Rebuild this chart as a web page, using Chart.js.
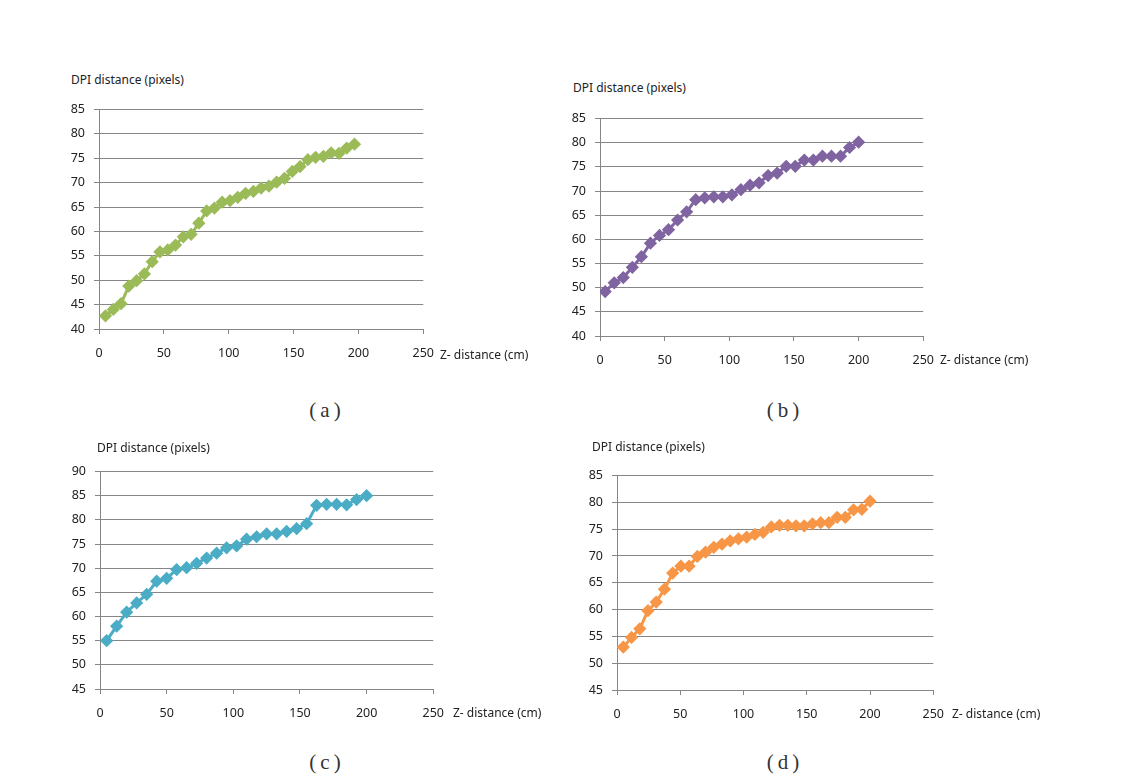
<!DOCTYPE html>
<html>
<head>
<meta charset="utf-8">
<script src="https://cdn.jsdelivr.net/npm/chart.js@4.4.1/dist/chart.umd.min.js"></script>
<style>
  body { margin: 0; background: #fff; width: 1140px; height: 783px; position: relative; overflow: hidden; }
  .box { position: absolute; }
  .lbl { position: absolute; font-family: "Noto Sans", sans-serif; font-size: 12px; color: #222; white-space: nowrap; line-height: 1; }
  .cap { position: absolute; font-family: "Liberation Serif", serif; font-size: 21px; color: #333; letter-spacing: 4px; white-space: nowrap; line-height: 1; transform: translateX(-50%); }
</style>
</head>
<body>
<script>
// measured points, Z- distance (cm) vs DPI distance (pixels)
const xA = [5, 11, 17, 23, 29, 35, 41, 47, 53, 59, 65, 71, 77, 83, 89, 95, 101, 107, 113, 119, 125, 131, 137, 143, 149, 155, 161, 167, 173, 179, 185, 191, 197];
const yA = [42.7, 44.0, 45.2, 48.8, 49.9, 51.3, 53.8, 55.8, 56.2, 57.2, 58.9, 59.4, 61.7, 64.2, 64.8, 66.0, 66.3, 67.0, 67.8, 68.2, 68.9, 69.3, 70.1, 70.9, 72.3, 73.3, 74.7, 75.2, 75.4, 76.1, 76.0, 77.1, 77.9];

const xB = [4, 11, 18, 25, 32, 39, 46, 53, 60, 67, 74, 81, 88, 95, 102, 109, 116, 123, 130, 137, 144, 151, 158, 165, 172, 179, 186, 193, 200];
const yB = [49.2, 51.0, 52.1, 54.2, 56.4, 59.2, 60.8, 62.0, 64.0, 65.7, 68.2, 68.6, 68.8, 68.8, 69.2, 70.3, 71.2, 71.7, 73.2, 73.7, 75.1, 75.1, 76.4, 76.4, 77.2, 77.2, 77.2, 79.0, 80.1];

const xC = [5, 12.5, 20, 27.5, 35, 42.5, 50, 57.5, 65, 72.5, 80, 87.5, 95, 102.5, 110, 117.5, 125, 132.5, 140, 147.5, 155, 162.5, 170, 177.5, 185, 192.5, 200];
const yC = [55.0, 58.0, 60.9, 62.8, 64.6, 67.3, 67.9, 69.7, 70.1, 71.0, 72.1, 73.1, 74.2, 74.6, 76.0, 76.5, 77.1, 77.1, 77.6, 78.2, 79.2, 83.0, 83.2, 83.2, 83.1, 84.2, 85.0];

const xD = [5, 11.5, 18, 24.5, 31, 37.5, 44, 50.5, 57, 63.5, 70, 76.5, 83, 89.5, 96, 102.5, 109, 115.5, 122, 128.5, 135, 141.5, 148, 154.5, 161, 167.5, 174, 180.5, 187, 193.5, 200];
const yD = [53.0, 54.8, 56.4, 59.8, 61.4, 63.8, 66.8, 68.1, 68.1, 69.9, 70.7, 71.6, 72.2, 72.8, 73.2, 73.5, 74.0, 74.4, 75.4, 75.7, 75.7, 75.6, 75.6, 76.0, 76.2, 76.2, 77.2, 77.2, 78.6, 78.7, 80.2];

const yTitle = 'DPI distance (pixels)';
const xTitle = 'Z- distance (cm)';
const captions = ['(a)', '(b)', '(c)', '(d)'];
const colors = ['#9bbb59', '#8064a2', '#4bacc6', '#f79646'];
const yRanges = [[40, 85], [40, 85], [45, 90], [45, 85]];

// plot area corners on the page
const panels = [
  { x: xA, y: yA, left: 99, right: 422, top: 108, bottom: 329, tx: 71, ty: 74, zx: 440, zy: 349, cx: 327, cy: 400 },
  { x: xB, y: yB, left: 600, right: 922, top: 117, bottom: 336, tx: 573, ty: 82, zx: 940, zy: 354, cx: 785, cy: 400 },
  { x: xC, y: yC, left: 100, right: 432, top: 470, bottom: 689, tx: 97, ty: 442, zx: 453, zy: 707, cx: 327, cy: 752 },
  { x: xD, y: yD, left: 617, right: 932, top: 474, bottom: 690, tx: 592, ty: 441, zx: 952, zy: 708, cx: 785, cy: 752 },
];

const YW = 60, PT = 15, PR = 24, XH = 40;
const gridCol = '#868686';
const tickFont = { family: 'Noto Sans', size: 12.5 };

panels.forEach((p, i) => {
  const div = document.createElement('div');
  div.className = 'box';
  div.style.left = (p.left - YW) + 'px';
  div.style.top = (p.top - PT) + 'px';
  div.style.width = (p.right - p.left + YW + PR) + 'px';
  div.style.height = (p.bottom - p.top + PT + XH) + 'px';
  const cv = document.createElement('canvas');
  div.appendChild(cv);
  document.body.appendChild(div);

  const t = document.createElement('div');
  t.className = 'lbl'; t.textContent = yTitle;
  t.style.left = p.tx + 'px'; t.style.top = p.ty + 'px';
  document.body.appendChild(t);
  const z = document.createElement('div');
  z.className = 'lbl'; z.textContent = xTitle;
  z.style.left = p.zx + 'px'; z.style.top = p.zy + 'px';
  document.body.appendChild(z);
  const c = document.createElement('div');
  c.className = 'cap'; c.textContent = captions[i];
  c.style.left = p.cx + 'px'; c.style.top = p.cy + 'px';
  document.body.appendChild(c);

  new Chart(cv, {
    type: 'scatter',
    data: {
      datasets: [{
        data: p.x.map((v, k) => ({ x: v, y: p.y[k] })),
        showLine: true,
        borderColor: colors[i],
        backgroundColor: colors[i],
        borderWidth: 3,
        pointStyle: 'rectRot',
        pointRadius: 4.5,
        pointHoverRadius: 4.5,
      }],
    },
    options: {
      animation: false,
      responsive: true,
      maintainAspectRatio: false,
      layout: { padding: { top: PT - 3, right: 20, left: 0, bottom: 0 } },
      plugins: { legend: { display: false }, tooltip: { enabled: false } },
      scales: {
        x: {
          type: 'linear', min: 0, max: 250,
          afterFit: (s) => { s.height = XH; },
          ticks: { stepSize: 50, color: '#222', font: tickFont, padding: 12, maxRotation: 0 },
          grid: { drawOnChartArea: false, drawTicks: true, tickLength: 5, color: gridCol },
          border: { color: gridCol },
        },
        y: {
          min: yRanges[i][0], max: yRanges[i][1],
          afterFit: (s) => { s.width = YW; },
          ticks: { stepSize: 5, color: '#222', font: tickFont, padding: 9 },
          grid: { drawTicks: true, tickLength: 5, color: gridCol },
          border: { color: gridCol },
        },
      },
    },
  });
});
</script>
</body>
</html>
